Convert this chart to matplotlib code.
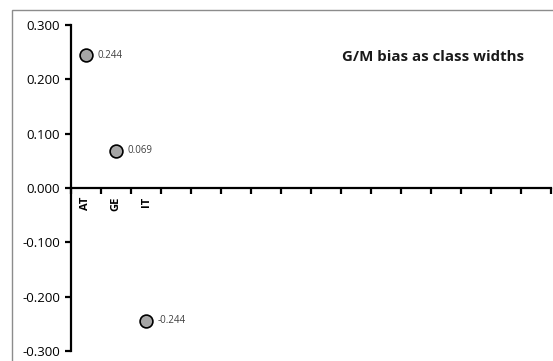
import matplotlib.pyplot as plt
from matplotlib.patches import Rectangle

countries = ["AT", "GE", "IT"]
bias = [0.244, 0.069, -0.244]
n_slots = 16
y_ticks = [-0.3, -0.2, -0.1, 0.0, 0.1, 0.2, 0.3]

fig = plt.figure(figsize=(5.53, 3.61), dpi=100)
plt.rcParams['font.family'] = ['Open Sans', 'DejaVu Sans']

# grey chart-area frame, cut off at right and bottom
fig.patches.append(Rectangle((12 / 553, -0.1), 1.2, 1 - 10 / 361 + 0.1,
                             transform=fig.transFigure, fill=False,
                             edgecolor='#8c8c8c', linewidth=1.0))

ax = fig.add_axes([71 / 553, 10 / 361, 480 / 553, 326 / 361])
ax.patch.set_visible(False)

xs = [i + 0.5 for i in range(len(countries))]
ax.scatter(xs, bias, s=85, color='#a6a6a6', edgecolor='black', linewidth=1.2, zorder=3)
for x, v in zip(xs, bias):
    ax.annotate(f"{v:.3f}", (x, v), xytext=(8, 0), textcoords='offset points',
                va='center', ha='left', fontsize=7, color='#404040')

ax.set_xlim(0, n_slots)
ax.set_ylim(-0.3, 0.3)

for s in ['top', 'right']:
    ax.spines[s].set_visible(False)
ax.spines['bottom'].set_position(('data', 0))
ax.spines['left'].set_linewidth(1.6)
ax.spines['bottom'].set_linewidth(1.6)

ax.set_yticks(y_ticks)
ax.set_yticklabels([f"{t:.3f}" for t in y_ticks])
ax.tick_params(axis='y', direction='out', length=4, width=1.6, labelsize=9.5, pad=4)

ax.set_xticks(xs)
ax.set_xticklabels(countries, rotation=90, fontweight='bold', fontsize=8)
ax.set_xticks(range(n_slots + 1), minor=True)
ax.tick_params(axis='x', which='major', length=0, pad=6)
ax.tick_params(axis='x', which='minor', direction='out', length=4, width=1.6)

fig.text(433 / 553, 1 - 57 / 361, "G/M bias as class widths", ha='center', va='center',
         fontsize=10.8, fontweight='bold', color='#1a1a1a')

fig.savefig("out.png", dpi=100)
